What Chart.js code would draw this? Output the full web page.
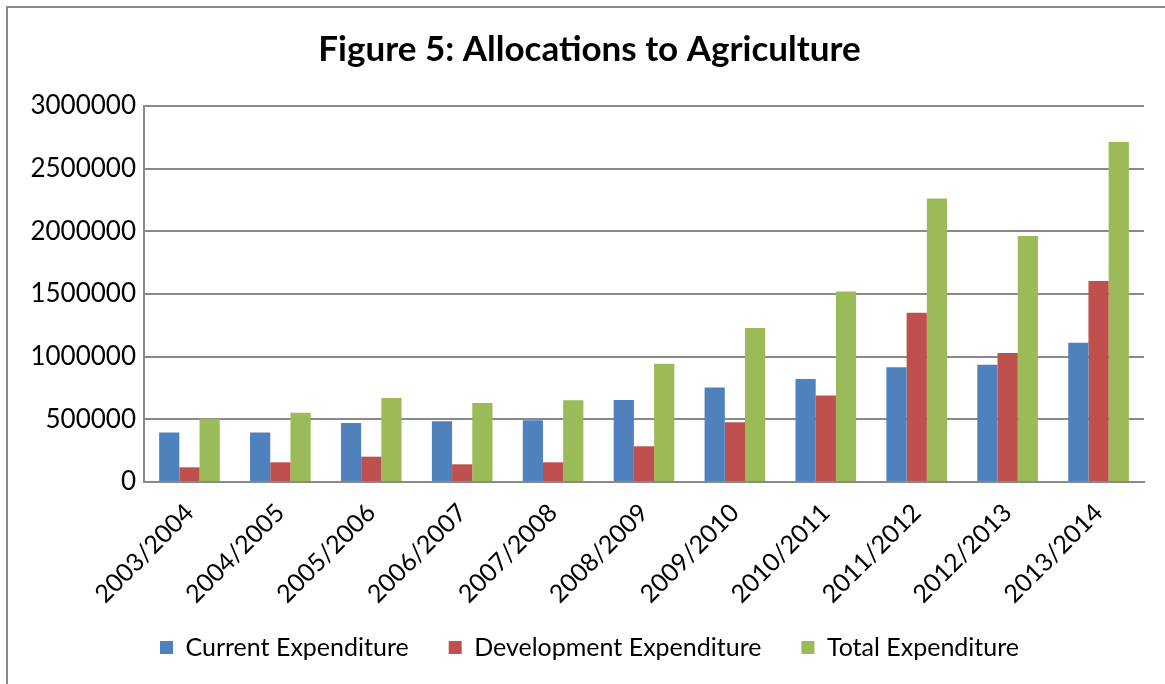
<!DOCTYPE html>
<html>
<head>
<meta charset="utf-8">
<title>Figure 5: Allocations to Agriculture</title>
<script src="https://cdn.jsdelivr.net/npm/chart.js@4/dist/chart.umd.min.js"></script>
<style>
  html, body { margin: 0; padding: 0; background: #ffffff; }
  #wrap { position: relative; width: 1165px; height: 684px; }
</style>
</head>
<body>
<div id="wrap"><canvas id="chart" width="1165" height="684"></canvas></div>
<script>
// Fiscal years
const years = ['2003/2004', '2004/2005', '2005/2006', '2006/2007', '2007/2008', '2008/2009',
               '2009/2010', '2010/2011', '2011/2012', '2012/2013', '2013/2014'];

// Allocations per year
const currentExpenditure     = [394000, 394000, 471000, 484000, 492000, 654000, 753000, 822000, 915000, 936000, 1112000];
const developmentExpenditure = [117000, 157000, 202000, 141000, 157000, 285000, 476000, 691000, 1351000, 1029000, 1604000];
const totalExpenditure       = [505000, 553000, 670000, 630000, 652000, 944000, 1229000, 1519000, 2261000, 1963000, 2713000];

const seriesNames = ['Current Expenditure', 'Development Expenditure', 'Total Expenditure'];
const yTicks = [0, 500000, 1000000, 1500000, 2000000, 2500000, 3000000];

const FONT = 'Lato, "Open Sans", "Liberation Sans", sans-serif';
const GRID = '#898989';

// Outer frame on the top and left edges
const framePlugin = {
  id: 'frame',
  beforeDraw(chart) {
    const ctx = chart.ctx;
    ctx.save();
    ctx.strokeStyle = '#8a8a8a';
    ctx.lineWidth = 2;
    ctx.beginPath();
    ctx.moveTo(1165, 7);
    ctx.lineTo(7, 7);
    ctx.lineTo(7, 684);
    ctx.stroke();
    ctx.restore();
  }
};

new Chart(document.getElementById('chart'), {
  type: 'bar',
  data: {
    labels: years,
    datasets: [
      { label: seriesNames[0], data: currentExpenditure, backgroundColor: '#4F81BD' },
      { label: seriesNames[1], data: developmentExpenditure, backgroundColor: '#C0504D' },
      { label: seriesNames[2], data: totalExpenditure, backgroundColor: '#9BBB59' }
    ]
  },
  options: {
    responsive: false,
    animation: false,
    devicePixelRatio: 1,
    layout: { padding: { left: 14, right: 0, top: 0, bottom: 14 } },
    datasets: { bar: { categoryPercentage: 0.667, barPercentage: 1.0, borderWidth: 0 } },
    plugins: {
      title: {
        display: true,
        text: 'Figure 5: Allocations to Agriculture',
        color: '#000000',
        font: { family: FONT, size: 35, weight: 'bold' },
        padding: { top: 29, bottom: 35 }
      },
      legend: {
        position: 'bottom',
        labels: {
          color: '#000000',
          font: { family: FONT, size: 25 },
          boxWidth: 13,
          boxHeight: 13,
          padding: 40
        }
      },
      tooltip: { enabled: false }
    },
    scales: {
      x: {
        grid: { display: false, drawTicks: false },
        border: { display: true, color: GRID, width: 2 },
        ticks: {
          color: '#000000',
          font: { family: FONT, size: 25 },
          minRotation: 45,
          maxRotation: 45,
          padding: 16,
          autoSkip: false
        },
        afterFit(scale) {
          scale.height = 113;
          // let the rotated year labels run past the axis box
          scale._computeLabelArea = () => undefined;
        }
      },
      y: {
        min: 0,
        max: 3000000,
        afterBuildTicks(scale) { scale.ticks = yTicks.map(v => ({ value: v })); },
        grid: { color: GRID, lineWidth: 2, drawTicks: false },
        border: { display: true, color: GRID, width: 2 },
        ticks: {
          color: '#000000',
          font: { family: FONT, size: 26 },
          padding: 8,
          callback: v => String(v)
        },
        afterFit(scale) { scale.width = 130; }
      },
      // empty margin on the right of the plot
      yRight: {
        position: 'right',
        display: true,
        grid: { display: false, drawTicks: false },
        border: { display: false },
        ticks: { display: false },
        afterFit(scale) { scale.width = 21; }
      }
    }
  },
  plugins: [framePlugin]
});
</script>
</body>
</html>
